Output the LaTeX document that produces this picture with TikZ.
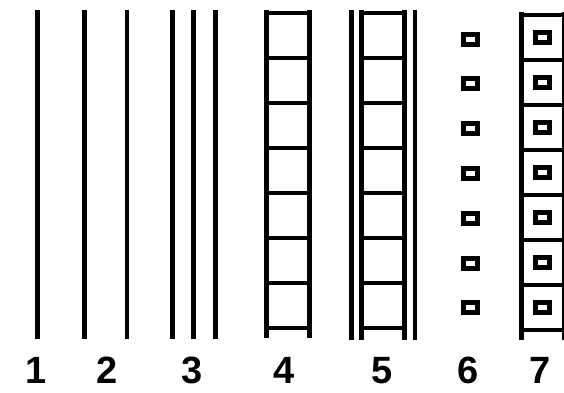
\documentclass[tikz,border=0pt]{standalone}
\usepackage{fontspec}
\setmainfont{Liberation Sans}
\usepackage{tikz}

\begin{document}
\begin{tikzpicture}[
    x=1pt, y=-1pt,
    bar/.style={draw, line width=4.6pt},
    rung/.style={draw, line width=4.4pt},
    cell/.style={draw, line width=5pt},
    num/.style={font=\fontsize{38}{38}\selectfont\bfseries, inner sep=0pt, anchor=base}
]
\useasboundingbox (0,0) rectangle (564,392);
\clip (0,0) rectangle (564,392);

% Type 1, 2, 3: plain lines
\foreach \x in {37.7, 84.7, 127, 172.3, 193.3, 215.3}
    \draw[bar] (\x,10) -- (\x,339);

% Type 4: ladder
\draw[bar] (266.7,10) -- (266.7,338);
\draw[bar] (309.3,10) -- (309.3,338);
\foreach \k in {0,...,7}
    \draw[rung] (266.7,13+45*\k) -- (309.3,13+45*\k);

% Type 5: ladder with outer lines
\draw[bar] (351.7,10) -- (351.7,340);
\draw[bar] (415,10) -- (415,340);
\draw[bar] (361.7,10) -- (361.7,340);
\draw[bar] (404.3,10) -- (404.3,340);
\foreach \k in {0,...,7}
    \draw[rung] (361.7,13+45*\k) -- (404.3,13+45*\k);

% Type 6: small boxes
\foreach \k in {0,...,6}
    \draw[cell] (470.7-7,39+44.8*\k-5) rectangle ++(14,10);

% Type 7: ladder with boxes
\draw[bar] (521.7,12) -- (521.7,340);
\draw[bar] (564,12) -- (564,340);
\foreach \k in {0,...,7}
    \draw[rung] (521.7,15+45*\k) -- (564,15+45*\k);
\foreach \k in {0,...,6}
    \draw[cell] (542.3-7,37.5+45*\k-5) rectangle ++(14,10);

% Labels
\node[num] (n1) at (36,383) {1};
\node[num] (n2) at (107.5,383) {2};
\node[num] (n3) at (192.5,383) {3};
\node[num] (n4) at (284,383) {4};
\node[num] (n5) at (381.7,383) {5};
\node[num] (n6) at (468,383) {6};
\node[num] (n7) at (540,383) {7};

\end{tikzpicture}
\end{document}
